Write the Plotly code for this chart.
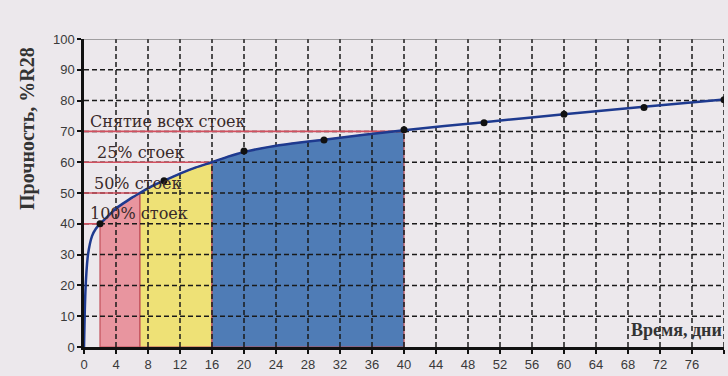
import plotly.graph_objects as go

# Curve (days, % of R28)
curve_t = [0, 0.1, 0.25, 0.5, 1, 1.5, 2, 3, 4, 5, 6, 7, 8.5, 10, 12, 14, 16, 18, 20, 23, 26, 30, 35, 40, 50, 60, 70, 80]
curve_s = [0, 12, 22, 30, 36, 38.5, 40, 42.5, 45, 46.8, 48.5, 50, 52.2, 54, 56.3, 58.3, 60, 61.8, 63.3, 64.9, 66.1, 67.3, 68.9, 70.4, 73, 75.6, 78, 80.4]

# Measured points
point_t = [2, 10, 20, 30, 40, 50, 60, 70, 80]
point_s = [40, 54, 63.6, 67.2, 70.5, 72.8, 75.6, 77.8, 80.3]

# Stages
stage_start = [2, 7, 16]
stage_end = [7, 16, 40]
stage_colors = ["#E8959F", "#EEE176", "#4F7CB6"]

level_values = [40, 50, 60, 70]
level_ends = [2, 7, 16, 40]
level_labels = ["100% стоек", "50% стоек", "25% стоек", "Снятие всех стоек"]

x_ticks = list(range(0, 81, 4))
y_ticks = list(range(0, 101, 10))

BG = "#ECE8EC"
fig = go.Figure()

for a, b, c in zip(stage_start, stage_end, stage_colors):
    xs = [t for t in curve_t if a <= t <= b]
    ys = [s for t, s in zip(curve_t, curve_s) if a <= t <= b]
    fig.add_trace(go.Scatter(
        x=[a] + xs + [b, a], y=[0] + ys + [0, 0],
        fill="toself", fillcolor=c, mode="lines",
        line=dict(color="#C2505A", width=1.2),
        hoverinfo="skip", showlegend=False))

gx, gy = [], []
for t in x_ticks[1:]:
    gx += [t, t, None]
    gy += [0, 100, None]
for v in y_ticks[1:-1]:
    gx += [0, 80, None]
    gy += [v, v, None]
fig.add_trace(go.Scatter(x=gx, y=gy, mode="lines",
                         line=dict(color="#1a1a1a", width=1.5, dash="5px,3px"),
                         hoverinfo="skip", showlegend=False))

for v, e in zip(level_values, level_ends):
    fig.add_trace(go.Scatter(x=[0, e], y=[v, v], mode="lines",
                             line=dict(color="#D2505F", width=1.6),
                             hoverinfo="skip", showlegend=False))

fig.add_trace(go.Scatter(x=curve_t, y=curve_s, mode="lines",
                         line=dict(color="#1E3A8F", width=2.5, shape="spline", smoothing=0.5),
                         showlegend=False))
fig.add_trace(go.Scatter(x=point_t, y=point_s, mode="markers",
                         marker=dict(color="#111111", size=7),
                         showlegend=False))

label_x = [0.5, 1.0, 1.4, 0.5]
for v, lab, lx in zip(level_values, level_labels, label_x):
    fig.add_annotation(x=lx, y=v + 3.2, text=lab, showarrow=False,
                       xanchor="left", yanchor="middle",
                       font=dict(family="DejaVu Serif", size=16, color="#3a2a2a"))

fig.add_annotation(xref="paper", yref="paper", x=-0.088, y=0.71,
                   xanchor="center", yanchor="middle",
                   text="<b>Прочность, %R28</b>", textangle=-90, showarrow=False,
                   font=dict(family="Liberation Serif", size=20, color="#333333"))
fig.add_annotation(xref="paper", yref="paper", x=1.0, y=0.055,
                   xanchor="right", yanchor="middle", text="<b>Время, дни</b>", showarrow=False,
                   font=dict(family="Liberation Serif", size=18, color="#333333"))

fig.add_shape(type="line", xref="paper", yref="y", x0=0, x1=1, y0=100, y1=100,
              line=dict(color="#555555", width=1))

tick_font = dict(family="Liberation Sans", size=13, color="#3a3a3a")
fig.update_xaxes(range=[0, 80], tickvals=x_ticks, ticktext=[str(t) for t in x_ticks],
                 showgrid=False, zeroline=False, showline=True, linecolor="#111111", linewidth=2.5,
                 ticks="outside", ticklen=4, tickwidth=2, tickcolor="#111111",
                 tickfont=tick_font, tickprefix="<b>", ticksuffix="</b>")
fig.update_yaxes(range=[0, 100], tickvals=y_ticks, ticktext=[str(v) for v in y_ticks],
                 showgrid=False, zeroline=False, showline=True, linecolor="#111111", linewidth=2.5,
                 ticks="outside", ticklen=4, tickwidth=2, tickcolor="#111111",
                 tickfont=tick_font, tickprefix="<b>", ticksuffix="</b>")

fig.update_layout(width=728, height=376, paper_bgcolor=BG, plot_bgcolor=BG,
                  margin=dict(l=84, r=4, t=39, b=29), showlegend=False)

fig.write_html("out.html", config={"displayModeBar": False},
               post_script="document.body.style.margin='0';document.body.style.background='%s';" % BG)
